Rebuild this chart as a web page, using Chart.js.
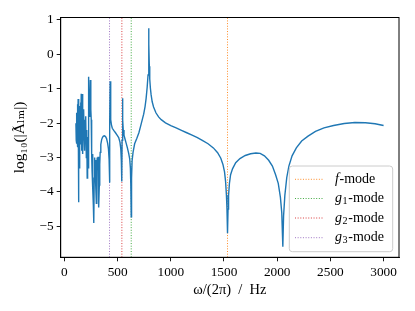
<!DOCTYPE html>
<html><head><meta charset="utf-8">
<script src="https://cdn.jsdelivr.net/npm/chart.js@4"></script>
<style>html,body{margin:0;padding:0;background:#fff}canvas{display:block}</style>
</head><body>
<canvas id="c" width="415" height="311"></canvas>
<script>
// ---- data ----
const freqHz = [
 108,111,113,115,117,119,121,123,125,127,129,131,133,135,137,139,141,143,146,149,
 152,155,158,161,164,167,170,173,176,179,182,185,188,191,194,198,202,206,210,214,
 218,222,226,229,233,237,240,244,248,252,256,260,264,268,272,276,280,284,288,292,
 296,300,304,308,312,316,320,324,328,332,336,342,350,358,366,376,386,396,406,414,
 420,424,427,430,433,437,442,450,465,480,495,510,522,530,535,539,542,546,549,553,
 560,570,580,592,604,614,620,624,628,631,636,645,660,680,700,715,730,745,758,768,
 778,786,790,793,794,795,798,802,808,815,825,838,860,885,910,950,1000,1050,1100,1150,1200,1250,
 1300,1350,1400,1440,1470,1490,1505,1515,1523,1528,1533,1538,1543,1551,1562,1580,1610,1650,1700,1750,
 1800,1840,1880,1920,1955,1985,2010,2030,2043,2053,2060,2072,2090,2110,2140,2180,2230,2290,2360,2440,
 2530,2630,2730,2830,2920,3000
];
const logAmp = [
 -2.0,-2.5,-1.7,-2.6,-1.9,-2.4,-1.6,-2.7,-1.45,-2.2,-1.3,-4.3,-1.5,-2.5,-1.4,-3.3,-1.5,-2.3,-1.6,-2.6,
 -1.4,-2.2,-1.15,-2.8,-1.7,-2.4,-1.15,-2.9,-1.9,-2.5,-1.6,-2.3,-1.9,-2.8,-2.1,-2.4,-1.8,-3.0,-2.2,-3.6,
 -2.4,-3.3,-1.9,-0.65,-1.8,-1.3,-1.75,-0.75,-1.6,-1.9,-2.9,-3.4,-2.9,-3.9,-4.4,-4.9,-3.6,-3.0,-3.3,-3.07,
 -3.8,-4.33,-3.4,-3.0,-3.3,-2.98,-3.6,-4.45,-3.8,-3.2,-2.85,-2.62,-2.48,-2.41,-2.38,-2.37,-2.39,-2.45,-2.58,-2.75,
 -3.05,-3.73,-2.0,-0.78,-1.5,-1.9,-2.05,-2.15,-2.22,-2.28,-2.35,-2.42,-2.55,-2.75,-3.1,-3.7,-2.5,-1.28,-1.9,-2.2,
 -2.35,-2.47,-2.58,-2.72,-2.88,-3.05,-3.3,-3.8,-4.72,-3.6,-3.1,-2.85,-2.6,-2.45,-2.28,-2.1,-1.92,-1.74,-1.52,-1.28,
 -0.95,-0.6,-0.2,0.35,0.76,0.3,-0.35,-0.72,-0.98,-1.18,-1.38,-1.53,-1.7,-1.82,-1.9,-1.99,-2.07,-2.14,-2.21,-2.28,-2.35,-2.42,
 -2.51,-2.6,-2.72,-2.86,-3.02,-3.2,-3.42,-3.7,-4.1,-4.5,-5.2,-4.5,-4.1,-3.75,-3.5,-3.33,-3.15,-3.03,-2.94,-2.89,
 -2.87,-2.88,-2.95,-3.08,-3.25,-3.5,-3.75,-4.15,-4.6,-5.59,-4.7,-4.1,-3.58,-3.25,-2.95,-2.72,-2.52,-2.38,-2.24,-2.14,
 -2.07,-2.01,-1.98,-1.99,-2.02,-2.07
];
const modeFreqHz = [1533, 628, 540, 424];          // f, g1, g2, g3
const modeLabels = ['f-mode', 'g1-mode', 'g2-mode', 'g3-mode'];
const modeColors = ['#ff7f0e', '#2ca02c', '#d62728', '#9467bd'];
const xTickValues = [0, 500, 1000, 1500, 2000, 2500, 3000];
const yTickValues = [-5, -4, -3, -2, -1, 0, 1];
const xLimits = [-35, 3145];
const yLimits = [-5.9, 1.07];

// ---- chart ----
const FONT = '"Liberation Serif", "DejaVu Serif", serif';
const FS = 13.3;

const spectrum = {
  label: 'spectrum',
  data: freqHz.map((f, i) => ({x: f, y: logAmp[i]})),
  showLine: true, borderColor: '#1f77b4', borderWidth: 1.4,
  pointRadius: 0, tension: 0, order: 0
};
const modeSets = modeFreqHz.map((f, i) => ({
  label: modeLabels[i],
  data: [{x: f, y: yLimits[0]}, {x: f, y: yLimits[1]}],
  showLine: true, borderColor: modeColors[i], borderWidth: 0.9,
  borderDash: [1, 1.65], pointRadius: 0, order: 1
}));

function fmt(v) { return v < 0 ? '\u2212' + Math.abs(v) : String(v); }

const framePlugin = {
  id: 'frame',
  afterDatasetsDraw(chart) {
    const ctx = chart.ctx, a = chart.chartArea;
    ctx.save();
    ctx.strokeStyle = '#000'; ctx.lineWidth = 1;
    ctx.strokeRect(a.left, a.top, a.right - a.left, a.bottom - a.top);
    ctx.restore();
  }
};

const LFS = 14;
const legendPlugin = {
  id: 'modeLegend',
  afterDraw(chart) {
    const ctx = chart.ctx, a = chart.chartArea;
    const w = 103.4, h = 85.7;
    const x0 = a.right - 6.3 - w, y0 = a.bottom - 5.6 - h;
    ctx.save();
    ctx.beginPath();
    ctx.roundRect(x0, y0, w, h, 3);
    ctx.fillStyle = 'rgba(255,255,255,0.8)'; ctx.fill();
    ctx.strokeStyle = '#cccccc'; ctx.lineWidth = 1; ctx.stroke();
    const rowsY = [13.3, 32.5, 52.0, 71.7];
    modeSets.forEach((ds, i) => {
      const y = y0 + rowsY[i];
      ctx.beginPath();
      ctx.setLineDash([1, 1.65]);
      ctx.strokeStyle = ds.borderColor; ctx.lineWidth = 0.9;
      ctx.moveTo(x0 + 5.7, y); ctx.lineTo(x0 + 33.4, y); ctx.stroke();
      ctx.setLineDash([]);
      ctx.fillStyle = '#000'; ctx.textBaseline = 'middle'; ctx.textAlign = 'left';
      let tx = x0 + 45.7;
      const lab = ds.label;
      const sym = lab[0];
      const rest = lab.slice(1);
      ctx.font = 'italic ' + LFS + 'px ' + FONT;
      ctx.fillText(sym, tx, y); tx += ctx.measureText(sym).width + 0.6;
      const dash = rest.indexOf('-');
      const sub = rest.slice(0, dash);
      if (sub) {
        ctx.font = (LFS * 0.72) + 'px ' + FONT;
        ctx.fillText(sub, tx, y + 3); tx += ctx.measureText(sub).width + 0.6;
      }
      ctx.font = LFS + 'px ' + FONT;
      ctx.fillText(rest.slice(dash), tx, y);
    });
    ctx.restore();
  }
};

new Chart(document.getElementById('c'), {
  type: 'scatter',
  data: {datasets: [spectrum, ...modeSets]},
  options: {
    responsive: false, devicePixelRatio: 1, animation: false,
    layout: {padding: {left: 0, top: 17.5, right: 16, bottom: 0}},
    plugins: {legend: {display: false}, tooltip: {enabled: false}},
    scales: {
      x: {
        type: 'linear', min: xLimits[0], max: xLimits[1],
        afterBuildTicks: s => { s.ticks = xTickValues.map(v => ({value: v})); },
        afterFit: s => { s.height = 311 - 257.3; },
        ticks: {callback: v => fmt(v), color: '#000', padding: 3, maxRotation: 0, autoSkip: false,
                font: {family: FONT, size: FS}},
        grid: {drawOnChartArea: false, drawTicks: true, tickLength: 4, color: '#000', lineWidth: 0.9},
        border: {display: true, color: '#000', width: 1},
        title: {display: true, text: 'ω/(2π)  /  Hz', color: '#000',
                font: {family: FONT, size: 14.5}, padding: {top: 0, bottom: 11.8}}
      },
      y: {
        type: 'linear', min: yLimits[0], max: yLimits[1],
        afterBuildTicks: s => { s.ticks = yTickValues.map(v => ({value: v})); },
        afterFit: s => { s.width = 60.7; },
        ticks: {callback: v => fmt(v), color: '#000', padding: 3, autoSkip: false,
                font: {family: FONT, size: FS}},
        grid: {drawOnChartArea: false, drawTicks: true, tickLength: 4, color: '#000', lineWidth: 0.9},
        border: {display: true, color: '#000', width: 1},
        title: {display: true, text: 'log₁₀(|Ãₗₘ|)', color: '#000',
                font: {family: FONT, size: 15.5}, padding: {top: 11, bottom: 0}}
      }
    }
  },
  plugins: [framePlugin, legendPlugin]
});
</script>
</body></html>
